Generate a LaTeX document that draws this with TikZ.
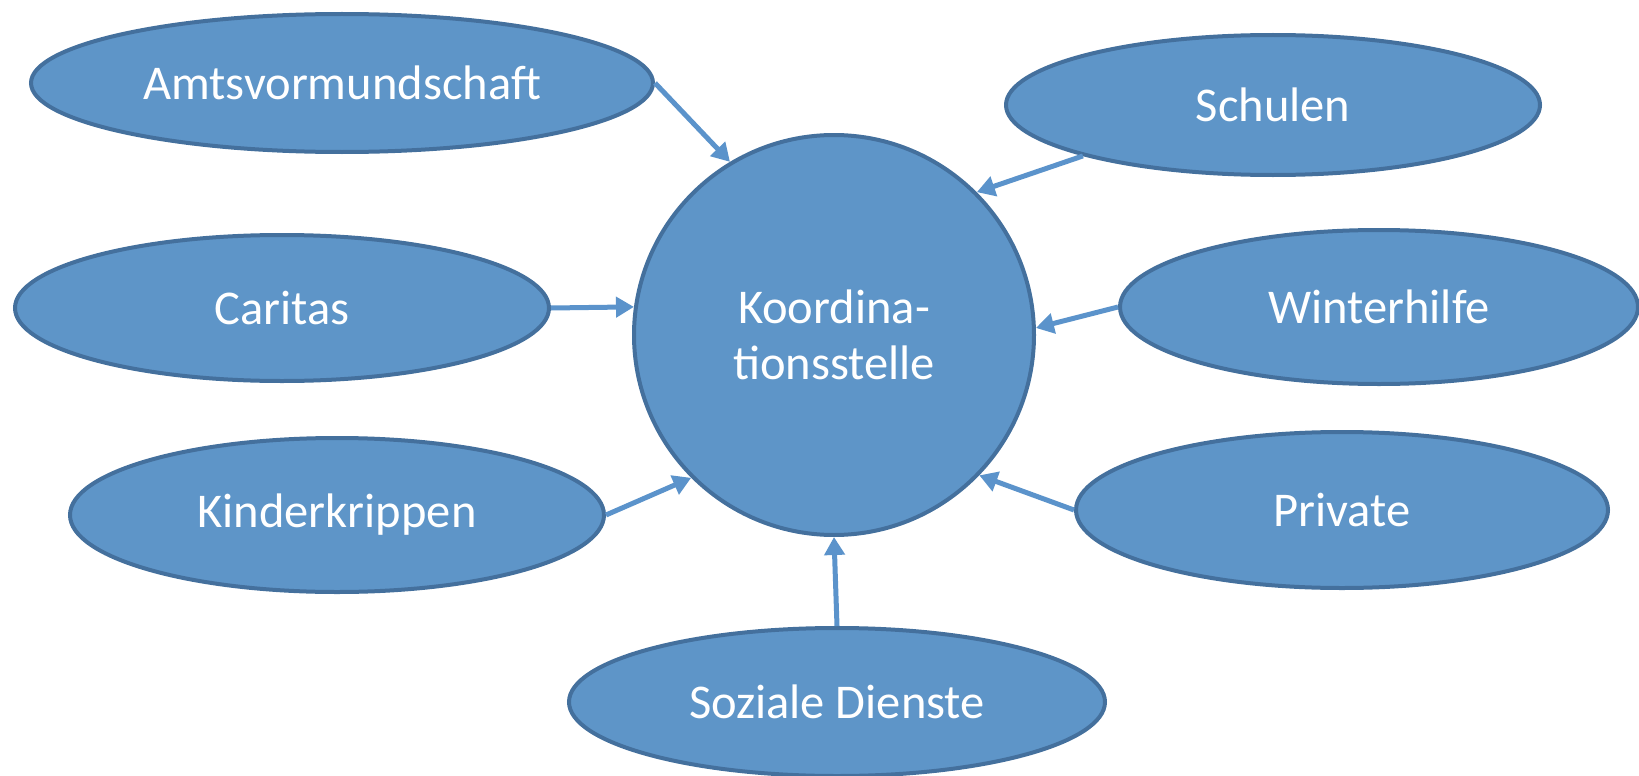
\documentclass[tikz,border=0pt]{standalone}
\usepackage{fontspec}
\setmainfont{Carlito}
\usetikzlibrary{shapes.geometric,arrows.meta}
\definecolor{bfill}{HTML}{5E95C8}
\definecolor{bdraw}{HTML}{44709D}
\definecolor{arrc}{HTML}{5B93CB}
\tikzset{
  x=1pt,y=-1pt,
  oval/.style={ellipse,draw=bdraw,fill=bfill,line width=4pt,inner sep=0pt,
    text=white,font=\fontsize{48.5}{56}\selectfont,align=center},
  hub/.style={circle,draw=bdraw,fill=bfill,line width=4pt,inner sep=0pt,
    minimum size=400pt,text=white,font=\fontsize{48.5}{56}\selectfont,align=center},
  conn/.style={draw=arrc,line width=5pt,-{Triangle[length=18pt,width=20pt]}}
}
\begin{document}
\begin{tikzpicture}
\useasboundingbox (0,0) rectangle (1639,776);
\node[hub] (k) at (834,335) {Koordina-\\tionsstelle};
\node[oval,minimum width=622pt,minimum height=138pt] (amts) at (342,83) {Amtsvormundschaft};
\node[oval,minimum width=534pt,minimum height=140pt] (schulen) at (1273,105) {Schulen};
\node[oval,minimum width=534pt,minimum height=146pt] (caritas) at (282,308) {Caritas};
\node[oval,minimum width=518pt,minimum height=154pt] (winter) at (1379,307) {Winterhilfe};
\node[oval,minimum width=534pt,minimum height=154pt] (kinder) at (337,515) {Kinderkrippen};
\node[oval,minimum width=532pt,minimum height=156pt] (private) at (1342,510) {Private};
\node[oval,minimum width=536pt,minimum height=148pt] (soziale) at (837,702) {Soziale Dienste};
\draw[conn] (amts.east) -- (k.121);
\draw[conn] (schulen.195) -- (k.45);
\draw[conn] (caritas.east) -- (k.172);
\draw[conn] (winter.west) -- (k.2);
\draw[conn] (kinder.east) -- (k.225);
\draw[conn] (private.west) -- (k.316);
\draw[conn] (soziale.north) -- (k.270);
\end{tikzpicture}
\end{document}
